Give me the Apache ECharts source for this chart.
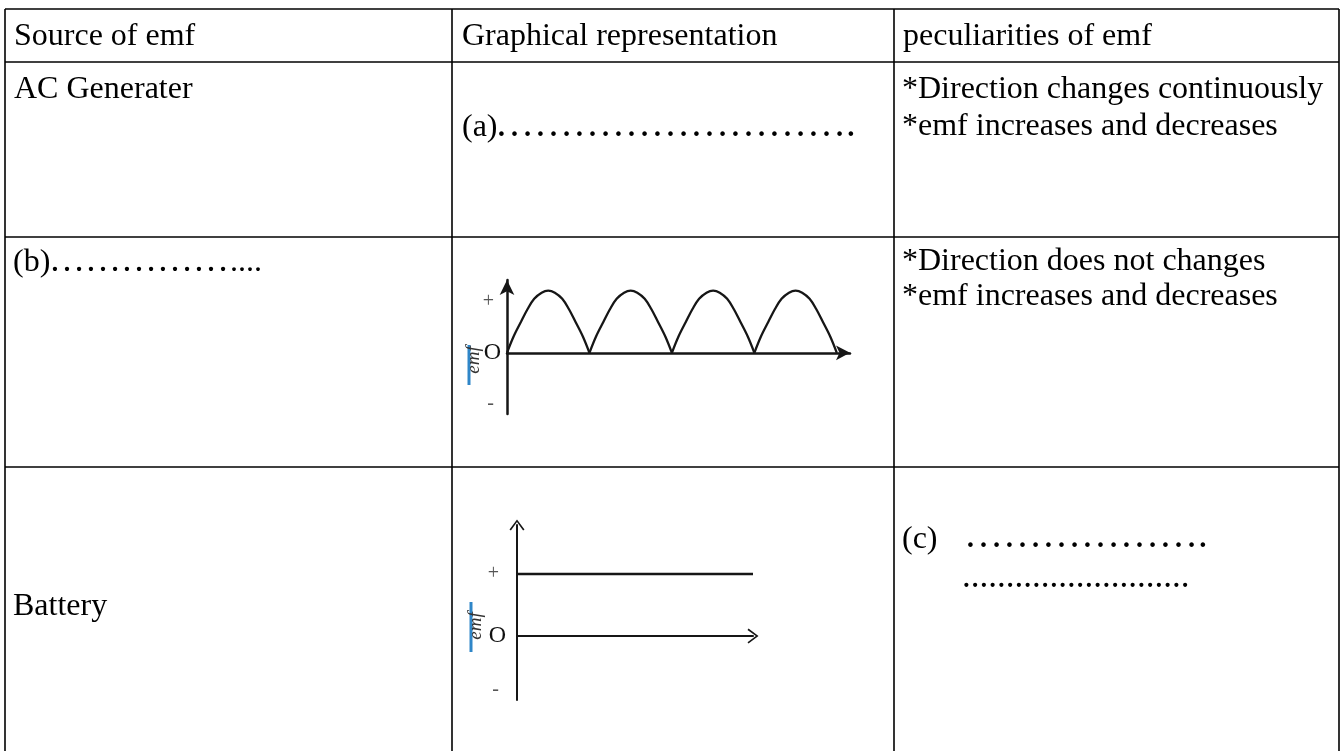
<!DOCTYPE html>
<html>
<head>
<meta charset="utf-8">
<title>Source of emf</title>
<script src="https://cdn.jsdelivr.net/npm/echarts@6/dist/echarts.min.js"></script>
<style>
  html, body { margin: 0; padding: 0; background: #fff; }
  #chart { width: 1344px; height: 751px; }
</style>
</head>
<body>
<div id="chart"></div>
<script>
// table text
const headers = ["Source of emf", "Graphical representation", "peculiarities of emf"];
const sources = ["AC Generater", "(b)", "Battery"];
const acNotes = ["*Direction changes continuously", "*emf increases and decreases"];
const dcNotes = ["*Direction does not changes", "*emf increases and decreases"];

// rectified emf: one hump, repeated for each half cycle
const humpX = [0, 0.08, 0.17, 0.25, 0.33, 0.42, 0.5, 0.58, 0.67, 0.75, 0.83, 0.92, 1];
const humpY = [0, 0.32, 0.61, 0.86, 1.06, 1.18, 1.22, 1.18, 1.06, 0.86, 0.61, 0.32, 0];
const humpStarts = [0, 1, 2, 3];

// battery emf: constant level
const batteryX = [0, 1];
const batteryY = [1, 1];

const FONT = "'Liberation Serif', 'Times New Roman', serif";
const INK = "#161616";
const chevron = "path://M0,10 L7.5,0 L15,10 L13.6,11 L7.5,2.6 L1.4,11 Z";
const dotsA = "\u2026\u2026\u2026\u2026\u2026\u2026\u2026\u2026\u2026.";
const dotsB = "\u2026\u2026\u2026\u2026\u2026";
const dotsC = "\u2026\u2026\u2026\u2026\u2026\u2026.";

const chart = echarts.init(document.getElementById("chart"), null, { renderer: "canvas" });

function txt(str, x, baseline, size) {
  size = size || 32;
  return {
    type: "text",
    x: x,
    y: baseline - size * 0.32,
    style: { text: str, font: size + "px " + FONT, fill: "#000", verticalAlign: "middle", align: "left" }
  };
}
function hline(x1, x2, y) {
  return { type: "line", shape: { x1: x1, y1: y, x2: x2, y2: y }, style: { stroke: "#000", lineWidth: 1.6 } };
}
function vline(x, y1, y2) {
  return { type: "line", shape: { x1: x, y1: y1, x2: x, y2: y2 }, style: { stroke: "#000", lineWidth: 1.6 } };
}
function emfTag(cx, cy, y1, y2) {
  return [
    { type: "line", shape: { x1: cx - 5, y1: y1, x2: cx - 5, y2: y2 }, style: { stroke: "#2f86c8", lineWidth: 3 } },
    {
      type: "text", x: cx, y: cy, rotation: Math.PI / 2,
      style: { text: "emf", font: "italic 19px " + FONT, fill: "#333", align: "center", verticalAlign: "middle" }
    }
  ];
}

const graphic = [
  hline(5, 1339, 9), hline(5, 1339, 62), hline(5, 1339, 237), hline(5, 1339, 467),
  vline(5, 9, 751), vline(452, 9, 751), vline(894, 9, 751), vline(1339, 9, 751),
  txt(headers[0], 14, 47), txt(headers[1], 462, 47), txt(headers[2], 903, 47),
  txt(sources[0], 14, 100),
  txt("(a)", 462, 138), txt(dotsA, 495, 138, 39),
  txt(acNotes[0], 902, 100), txt(acNotes[1], 902, 137),
  txt(sources[1], 13, 273), txt(dotsB, 49, 273, 36), txt("....", 230, 273, 32),
  txt(dcNotes[0], 902, 272), txt(dcNotes[1], 902, 307),
  txt(sources[2], 13, 617),
  txt("(c)", 902, 550), txt(dotsC, 964, 549, 39),
  txt("..........................", 962, 589, 35)
].concat(emfTag(474, 360, 345, 385), emfTag(476, 626, 602, 652));

function labelRich(v) {
  const s = v > 0.5 ? "+" : v < -0.5 ? "-" : "O";
  return s === "O" ? "{o|O}" : "{p|" + s + "}";
}
function emfAxis(min, max, ticks, margin) {
  return {
    type: "value", min: min, max: max,
    splitLine: { show: false },
    axisTick: { show: false },
    axisLine: { show: true, symbol: ["none", "arrow"], symbolSize: [11, 15], lineStyle: { color: INK, width: 2.5 } },
    axisLabel: {
      customValues: ticks, margin: margin,
      formatter: labelRich,
      rich: {
        o: { fontFamily: FONT, fontSize: 24, color: "#111" },
        p: { fontFamily: FONT, fontSize: 20, color: "#555", padding: [0, 7, 0, 0] }
      }
    }
  };
}
function timeAxis(max, arrow, size) {
  return {
    type: "value", min: 0, max: max,
    axisLabel: { show: false }, axisTick: { show: false }, splitLine: { show: false },
    axisLine: { show: true, onZero: true, symbol: ["none", arrow], symbolSize: size, lineStyle: { color: INK, width: 2.5 } }
  };
}

const battAxisY = emfAxis(-1.03, 1.79, [-0.87, 0, 1], 11);
battAxisY.axisLine.symbol = ["none", chevron];
battAxisY.axisLine.symbolSize = [15, 11];
battAxisY.axisLine.lineStyle.width = 2;
const battAxisX = timeAxis(1, chevron, [15, 11]);
battAxisX.axisLine.lineStyle.width = 2;

// one smooth series per half cycle so the cusps at zero stay sharp
const humpSeries = humpStarts.map(s => ({
  type: "line", xAxisIndex: 0, yAxisIndex: 0,
  data: humpX.map((x, i) => [s + x, humpY[i]]),
  smooth: 0.35, showSymbol: false, lineStyle: { color: INK, width: 2.3 }
}));

chart.setOption({
  animation: false,
  backgroundColor: "#fff",
  grid: [
    { left: 507, top: 280, width: 343, height: 134 },
    { left: 517, top: 525, width: 236, height: 175 }
  ],
  xAxis: [
    Object.assign(timeAxis(4.16, "arrow", [11, 14]), { gridIndex: 0 }),
    Object.assign(battAxisX, { gridIndex: 1 })
  ],
  yAxis: [
    Object.assign(emfAxis(-1.2, 1.43, [-1, 0, 1], 6), { gridIndex: 0 }),
    Object.assign(battAxisY, { gridIndex: 1 })
  ],
  series: humpSeries.concat([
    {
      type: "line", xAxisIndex: 1, yAxisIndex: 1,
      data: batteryX.map((x, i) => [x, batteryY[i]]),
      showSymbol: false, lineStyle: { color: INK, width: 2.5 }
    }
  ]),
  graphic: graphic
});
</script>
</body>
</html>
